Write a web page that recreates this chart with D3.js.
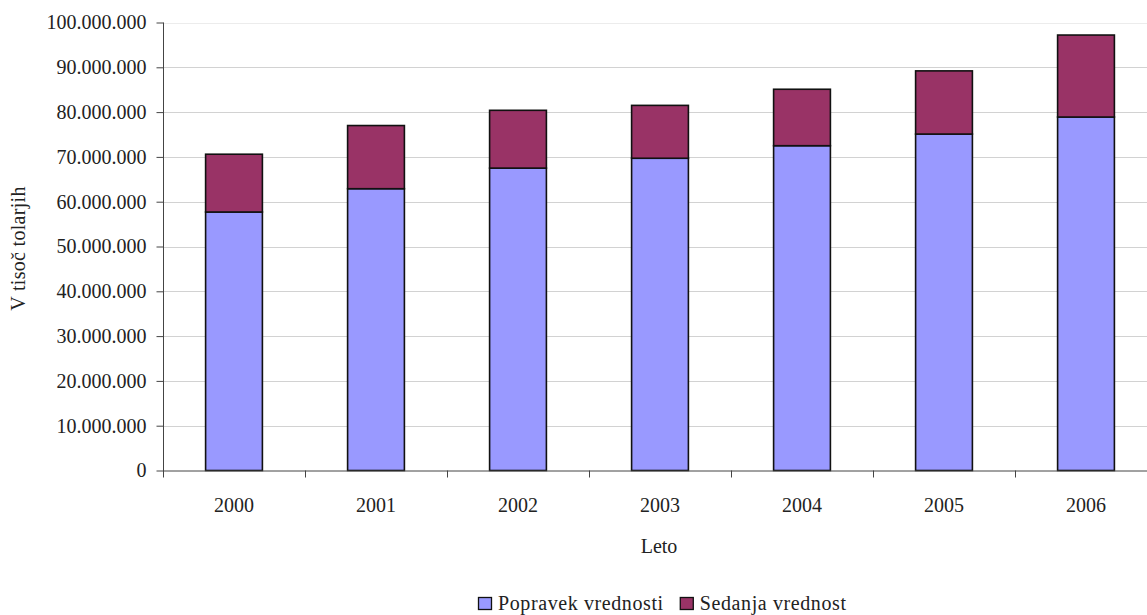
<!DOCTYPE html>
<html>
<head>
<meta charset="utf-8">
<script src="https://cdn.jsdelivr.net/npm/d3@7"></script>
<style>
  html, body { margin: 0; padding: 0; background: #fff; }
  svg { display: block; }
  svg text { font-family: 'Liberation Serif', 'DejaVu Serif', serif; fill: #222; }
</style>
</head>
<body>
<svg id="chart" width="1147" height="615"></svg>
<script>
// Years and stacked series (in thousand tolars)
const years = ["2000", "2001", "2002", "2003", "2004", "2005", "2006"];
const popravek = [57700000, 62900000, 67500000, 69700000, 72500000, 75100000, 78900000];
const sedanja  = [12900000, 14100000, 12900000, 11800000, 12600000, 14100000, 18300000];
const seriesNames = ["Popravek vrednosti", "Sedanja vrednost"];
const seriesColors = ["#9999FF", "#993366"];
const yTicks = [0, 10000000, 20000000, 30000000, 40000000, 50000000, 60000000, 70000000, 80000000, 90000000, 100000000];

const FONT = "'Liberation Serif', 'DejaVu Serif', serif";
const svg = d3.select("#chart");
const plotLeft = 163, plotRight = 1157, plotTop = 22.5, plotBottom = 470.5;

const x = d3.scaleBand().domain(years).range([plotLeft, plotRight]).padding(0);
const y = d3.scaleLinear().domain([0, 100000000]).range([plotBottom, plotTop]);

const fmt = d3.formatLocale({ decimal: ",", thousands: ".", grouping: [3], currency: ["", ""] }).format(",");

// gridlines
svg.append("g")
  .selectAll("line")
  .data(yTicks.filter(d => d > 0))
  .join("line")
  .attr("x1", plotLeft).attr("x2", plotRight)
  .attr("y1", d => Math.round(y(d)) + 0.5).attr("y2", d => Math.round(y(d)) + 0.5)
  .attr("stroke", d => d === 100000000 ? "#ececec" : "#d2d2d2")
  .attr("stroke-width", 1);

// stacked bars
const table = years.map((yr, i) => ({ year: yr, p: popravek[i], s: sedanja[i] }));
const stacked = d3.stack().keys(["p", "s"])(table);
const barW = x.bandwidth() * 0.4;

svg.append("g")
  .selectAll("g")
  .data(stacked)
  .join("g")
  .attr("fill", (d, i) => seriesColors[i])
  .selectAll("rect")
  .data(d => d)
  .join("rect")
  .attr("x", d => x(d.data.year) + (x.bandwidth() - barW) / 2)
  .attr("width", barW)
  .attr("y", d => y(d[1]))
  .attr("height", d => y(d[0]) - y(d[1]))
  .attr("stroke", "#111")
  .attr("stroke-width", 1.6);

// y axis
const yAxis = svg.append("g")
  .attr("transform", `translate(${plotLeft + 0.5},0)`)
  .call(d3.axisLeft(y).tickValues(yTicks).tickFormat(fmt).tickSize(7).tickPadding(10));
yAxis.attr("font-family", FONT).attr("font-size", 20);
yAxis.select(".domain").attr("stroke", "#444").attr("d", `M0,${plotTop}V${plotBottom + 7}`);
yAxis.selectAll(".tick line").attr("stroke", "#444");
yAxis.selectAll(".tick text").attr("fill", "#222");

// x axis
const xAxis = svg.append("g")
  .attr("transform", `translate(0,${plotBottom})`)
  .call(d3.axisBottom(x).tickSize(0).tickPadding(27));
xAxis.attr("font-family", FONT).attr("font-size", 20);
xAxis.select(".domain").attr("stroke", "#444").attr("d", `M${plotLeft},0.5H${plotRight}`);
xAxis.selectAll(".tick text").attr("fill", "#222");

// category separators on x axis
svg.append("g")
  .selectAll("line")
  .data(years.slice(1))
  .join("line")
  .attr("x1", d => Math.round(x(d)) + 0.5).attr("x2", d => Math.round(x(d)) + 0.5)
  .attr("y1", plotBottom).attr("y2", plotBottom + 7)
  .attr("stroke", "#444");

// axis titles
svg.append("text")
  .attr("x", (plotLeft + plotRight) / 2 - 1).attr("y", 553)
  .attr("text-anchor", "middle")
  .attr("font-size", 20)
  .text("Leto");

svg.append("text")
  .attr("transform", `translate(25,${(plotTop + plotBottom) / 2 + 2}) rotate(-90)`)
  .attr("text-anchor", "middle")
  .attr("font-size", 20)
  .attr("letter-spacing", "0.3px")
  .text("V tisoč tolarjih");

// legend
const legend = svg.append("g").attr("transform", "translate(478,597)");
let lx = 0;
seriesNames.forEach((name, i) => {
  const g = legend.append("g").attr("transform", `translate(${lx},0)`);
  g.append("rect")
    .attr("x", 0.5).attr("y", 0.5).attr("width", 13).attr("height", 12)
    .attr("fill", seriesColors[i]).attr("stroke", "#111").attr("stroke-width", 1.3);
  const t = g.append("text")
    .attr("x", 20).attr("y", 13)
    .attr("font-size", 20)
    .attr("letter-spacing", "0.6px")
    .text(name);
  lx += 20 + t.node().getComputedTextLength() + 16;
});
</script>
</body>
</html>
